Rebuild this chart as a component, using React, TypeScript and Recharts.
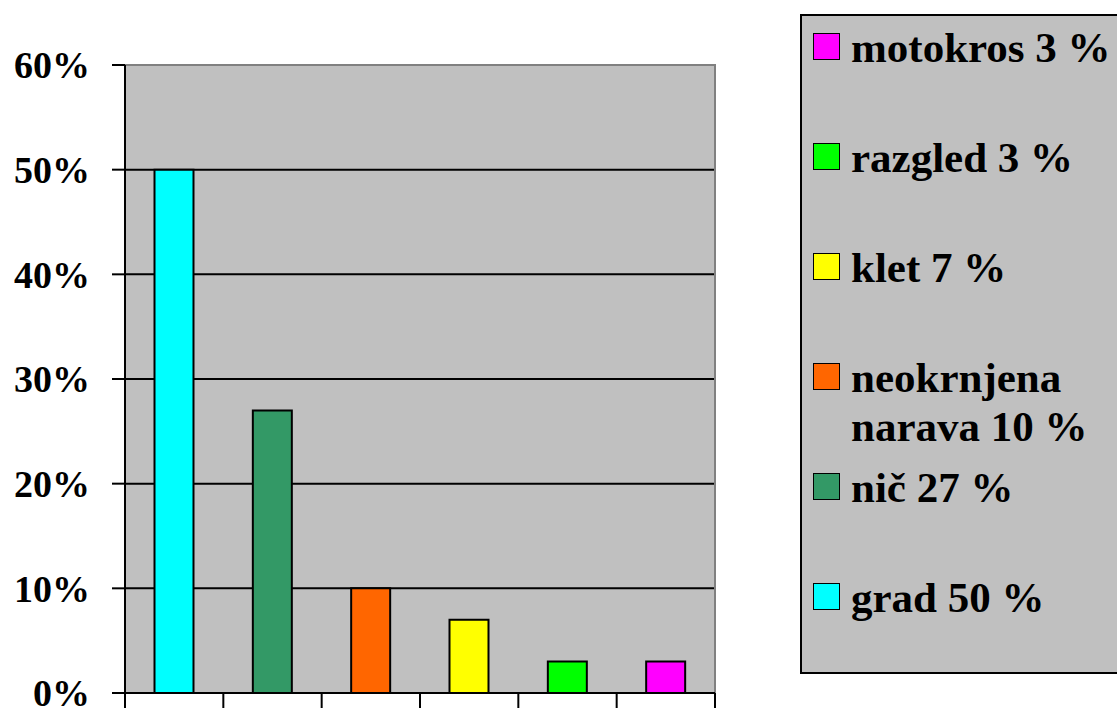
import React from "react";
import { BarChart, Bar, Cell, XAxis, YAxis, CartesianGrid, ReferenceArea } from "recharts";

const categories = ["grad", "nič", "neokrnjena narava", "klet", "razgled", "motokros"];
const values = [0.5, 0.27, 0.1, 0.07, 0.03, 0.03];
const colors = ["#00FFFF", "#339966", "#FF6600", "#FFFF00", "#00FF00", "#FF00FF"];
const legendLabels = ["grad 50 %", "nič 27 %", "neokrnjena narava 10 %", "klet 7 %", "razgled 3 %", "motokros 3 %"];
const yTicks = [0, 0.1, 0.2, 0.3, 0.4, 0.5, 0.6];
const gridTicks = [0.1, 0.2, 0.3, 0.4, 0.5];

const data = categories.map((name, i) => ({ name, value: values[i] }));

const W = 1117;
const H = 711;
const M = { top: 65, right: 402, left: 0, bottom: 0 };
const Y_W = 125;
const X_H = 18;
const Y_MAX = yTicks[yTicks.length - 1];
const BAND = (W - M.right - Y_W) / categories.length;
const FONT = '"Liberation Serif", "Times New Roman", serif';

function BoundaryTick(props: any) {
  const { x, y, index } = props;
  const last = index === categories.length - 1;
  return (
    <g>
      <line x1={x - BAND / 2} x2={x - BAND / 2} y1={y} y2={y + 15} stroke="#000" strokeWidth={2} />
      {last && <line x1={x + BAND / 2} x2={x + BAND / 2} y1={y} y2={y + 15} stroke="#000" strokeWidth={2} />}
    </g>
  );
}

// grid only at the inner ticks, so the top edge can stay grey
function gridRows(args: any) {
  const top = args?.offset?.top ?? M.top;
  const h = args?.offset?.height ?? H - M.top - X_H;
  return gridTicks.map((t) => top + h * (1 - t / Y_MAX));
}

function LegendBox() {
  // legend lists the series bottom-up, like the original
  const order = legendLabels.map((_, i) => i).reverse();
  return (
    <div
      style={{
        position: "absolute",
        left: 800,
        top: 14,
        width: 330,
        height: 656,
        background: "#C0C0C0",
        border: "2px solid #000",
        fontFamily: FONT,
        fontWeight: "bold",
        fontSize: 43,
        color: "#000",
      }}
    >
      {order.map((idx, k) => (
        <div key={idx} style={{ position: "absolute", left: 11, top: 7 + 110 * k, display: "flex", alignItems: "flex-start" }}>
          <div
            style={{
              width: 25,
              height: 25,
              marginTop: 10,
              background: colors[idx],
              border: "1.5px solid #000",
              flex: "none",
            }}
          />
          <div style={{ marginLeft: 11, lineHeight: "49px", width: 270, textAlign: "left", whiteSpace: "normal" }}>
            {legendLabels[idx]}
          </div>
        </div>
      ))}
    </div>
  );
}

export default function App() {
  return (
    <div style={{ position: "absolute", left: 0, top: 0, width: W, height: H, background: "#fff", overflow: "hidden" }}>
      <BarChart width={W} height={H} data={data} margin={M} barCategoryGap="30%">
        <CartesianGrid
          vertical={false}
          fill="#C0C0C0"
          stroke="#000"
          strokeWidth={2}
          horizontalCoordinatesGenerator={gridRows}
        />
        <ReferenceArea y1={0} y2={Y_MAX} fill="none" fillOpacity={0} stroke="#808080" strokeWidth={2} />
        <XAxis
          dataKey="name"
          height={X_H}
          axisLine={{ stroke: "#000", strokeWidth: 2 }}
          tickLine={false}
          tickSize={0}
          tickMargin={0}
          tick={<BoundaryTick />}
          interval={0}
        />
        <YAxis
          width={Y_W}
          domain={[0, Y_MAX]}
          ticks={yTicks}
          interval={0}
          axisLine={{ stroke: "#000", strokeWidth: 2 }}
          tickLine={{ stroke: "#000", strokeWidth: 2 }}
          tickSize={13}
          tickMargin={22}
          tickFormatter={(v: number) => `${Math.round(v * 100)}%`}
          tick={{ fill: "#000", fontSize: 38, fontWeight: "bold", fontFamily: FONT }}
        />
        <Bar dataKey="value" stroke="#000" strokeWidth={2} isAnimationActive={false}>
          {data.map((d, i) => (
            <Cell key={d.name} fill={colors[i]} />
          ))}
        </Bar>
      </BarChart>
      <LegendBox />
    </div>
  );
}
